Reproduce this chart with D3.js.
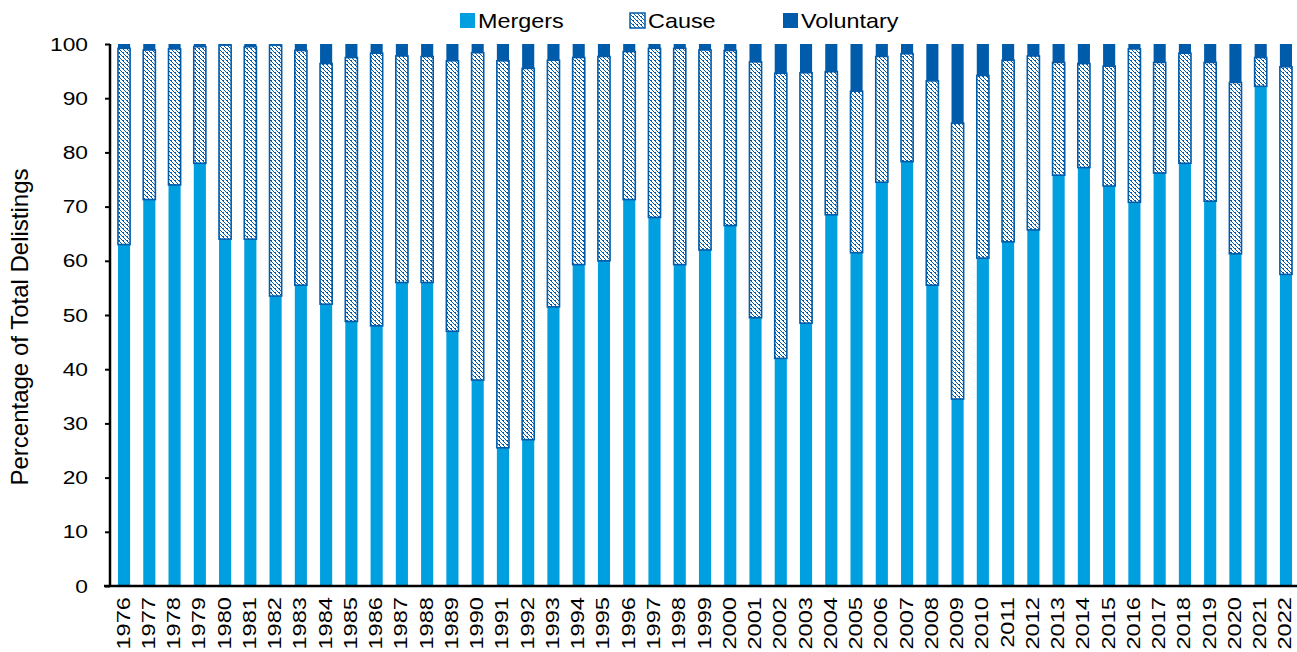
<!DOCTYPE html>
<html>
<head>
<meta charset="utf-8">
<script src="https://cdn.jsdelivr.net/npm/d3@7"></script>
<style>
  body { margin: 0; background: #fff; }
  svg text { font-family: "Liberation Sans", Arial, sans-serif; fill: #000; }
</style>
</head>
<body>
<div id="chart-area"></div>
<script>
// data (percent of total delistings)
var years = d3.range(1976, 2023).map(String)

var mergers = [63, 71.3, 74, 78, 64, 64, 53.5, 55.5, 52, 48.8, 48, 56, 56, 47, 38, 25.5, 27, 51.5, 59.3, 60,
  71.3, 68, 59.3, 62, 66.5, 49.5, 42, 48.5, 68.5, 61.5, 74.5, 78.3, 55.5, 34.5, 60.5, 63.5, 65.7, 75.8, 77.2, 73.8,
  70.8, 76.2, 78, 71, 61.3, 92.2, 57.5]

var cause = [36.2, 27.6, 25.1, 21.5, 35.8, 35.5, 46.3, 43.3, 44.4, 48.7, 50.3, 41.8, 41.7, 49.9, 60.4, 71.4, 68.5, 45.5, 38.2, 37.7,
  27.3, 31.2, 39.9, 36.9, 32.3, 47.2, 52.6, 46.2, 26.4, 29.8, 23.2, 19.9, 37.7, 50.9, 33.7, 33.5, 32.1, 20.8, 19.2, 22.1,
  28.3, 20.4, 20.3, 25.6, 31.6, 5.3, 38.3]

var voluntary = [0.8, 1.1, 0.9, 0.5, 0.2, 0.5, 0.2, 1.2, 3.6, 2.5, 1.7, 2.2, 2.3, 3.1, 1.6, 3.1, 4.5, 3, 2.5, 2.3,
  1.4, 0.8, 0.8, 1.1, 1.2, 3.3, 5.4, 5.3, 5.1, 8.7, 2.3, 1.8, 6.8, 14.6, 5.8, 3, 2.2, 3.4, 3.6, 4.1,
  0.9, 3.4, 1.7, 3.4, 7.1, 2.5, 4.2]

var seriesNames = ['Mergers', 'Cause', 'Voluntary']
var yTicks = [0, 10, 20, 30, 40, 50, 60, 70, 80, 90, 100]

var lightBlue = '#009FE0'
var darkBlue = '#005BAA'

var W = 1297, H = 652
var margin = {left: 110, top: 44}
var width = 1190
var height = 542

var svg = d3.select('#chart-area').append('svg')
  .attr('width', W)
  .attr('height', H)

// hatch pattern for the "Cause" series (pixel stair steps)
var defs = svg.append('defs')
var pat = defs.append('pattern')
  .attr('id', 'hatch')
  .attr('patternUnits', 'userSpaceOnUse')
  .attr('width', 4)
  .attr('height', 4)
pat.append('rect').attr('width', 4).attr('height', 4).attr('fill', '#fff')
;[[0,0],[1,1],[2,2],[3,3],[1,0]].forEach(function(p) {
  pat.append('rect')
    .attr('x', p[0]).attr('y', p[1])
    .attr('width', 1).attr('height', 1)
    .attr('fill', darkBlue)
})

var fills = {Mergers: lightBlue, Cause: 'url(#hatch)', Voluntary: darkBlue}

var table = years.map(function(y, i) {
  return {year: y, Mergers: mergers[i], Cause: cause[i], Voluntary: voluntary[i]}
})
var stacked = d3.stack().keys(seriesNames)(table)

var group = svg.append('g')
  .attr('transform', 'translate(' + margin.left + ',' + margin.top + ')')

var xScale = d3.scaleBand()
  .domain(years)
  .range([0, width])
  .paddingInner(0.52)
  .paddingOuter(0.316)

var yScale = d3.scaleLinear()
  .domain([0, 100])
  .range([height, 0])

// bars
group.selectAll('g.series')
  .data(stacked)
  .enter()
  .append('g')
  .attr('class', 'series')
  .each(function(s) {
    d3.select(this).selectAll('rect')
      .data(s)
      .enter()
      .append('rect')
      .attr('x', function(d) { return xScale(d.data.year) })
      .attr('width', xScale.bandwidth())
      .attr('y', function(d) { return yScale(d[1]) })
      .attr('height', function(d) { return yScale(d[0]) - yScale(d[1]) })
      .attr('fill', fills[s.key])
      .attr('stroke', s.key == 'Cause' ? darkBlue : 'none')
      .attr('stroke-width', s.key == 'Cause' ? 1.6 : 0)
  })

// y axis
var yAxis = d3.axisLeft(yScale)
  .tickValues(yTicks)
  .tickSize(5)
  .tickPadding(0)
  .tickFormat(d3.format('d'))

var yG = group.append('g').call(yAxis)
yG.select('.domain').remove()
yG.selectAll('.tick line').attr('stroke', '#000').attr('stroke-width', 2)
yG.selectAll('.tick text')
  .attr('font-size', '19px')
  .attr('fill', '#000')
  .style('font-family', '"Liberation Sans", Arial, sans-serif')
  .attr('x', null)
  .attr('transform', 'translate(-22,0) scale(1.2,1)')

group.append('line')
  .attr('x1', 0).attr('x2', 0)
  .attr('y1', 0).attr('y2', height)
  .attr('stroke', '#000').attr('stroke-width', 2.5)

// x axis
var xAxis = d3.axisBottom(xScale).tickSize(0).tickPadding(0)
var xG = group.append('g')
  .attr('transform', 'translate(0,' + height + ')')
  .call(xAxis)
xG.select('.domain').remove()
xG.selectAll('.tick text')
  .attr('font-size', '18.6px')
  .attr('fill', '#000')
  .style('font-family', '"Liberation Sans", Arial, sans-serif')
  .attr('text-anchor', 'end')
  .attr('y', null)
  .attr('dy', null)
  .attr('transform', 'translate(5.5,11) rotate(-90) scale(1.27,1)')

group.append('line')
  .attr('x1', -6).attr('x2', W - margin.left)
  .attr('y1', height).attr('y2', height)
  .attr('stroke', '#000').attr('stroke-width', 2.5)

// y label
svg.append('text')
  .attr('transform', 'translate(28,327) rotate(-90)')
  .attr('text-anchor', 'middle')
  .attr('font-size', '24px')
  .text('Percentage of Total Delistings')

// legend
var legendX = [460, 630, 783]
var legend = svg.append('g')
seriesNames.forEach(function(name, i) {
  legend.append('rect')
    .attr('x', legendX[i])
    .attr('y', 13)
    .attr('width', 15)
    .attr('height', 15)
    .attr('fill', fills[name])
    .attr('stroke', name == 'Cause' ? darkBlue : 'none')
    .attr('stroke-width', 1.5)
  legend.append('text')
    .attr('transform', 'translate(' + (legendX[i] + 18) + ',28) scale(1.17,1)')
    .attr('font-size', '20px')
    .text(name)
})
</script>
</body>
</html>
